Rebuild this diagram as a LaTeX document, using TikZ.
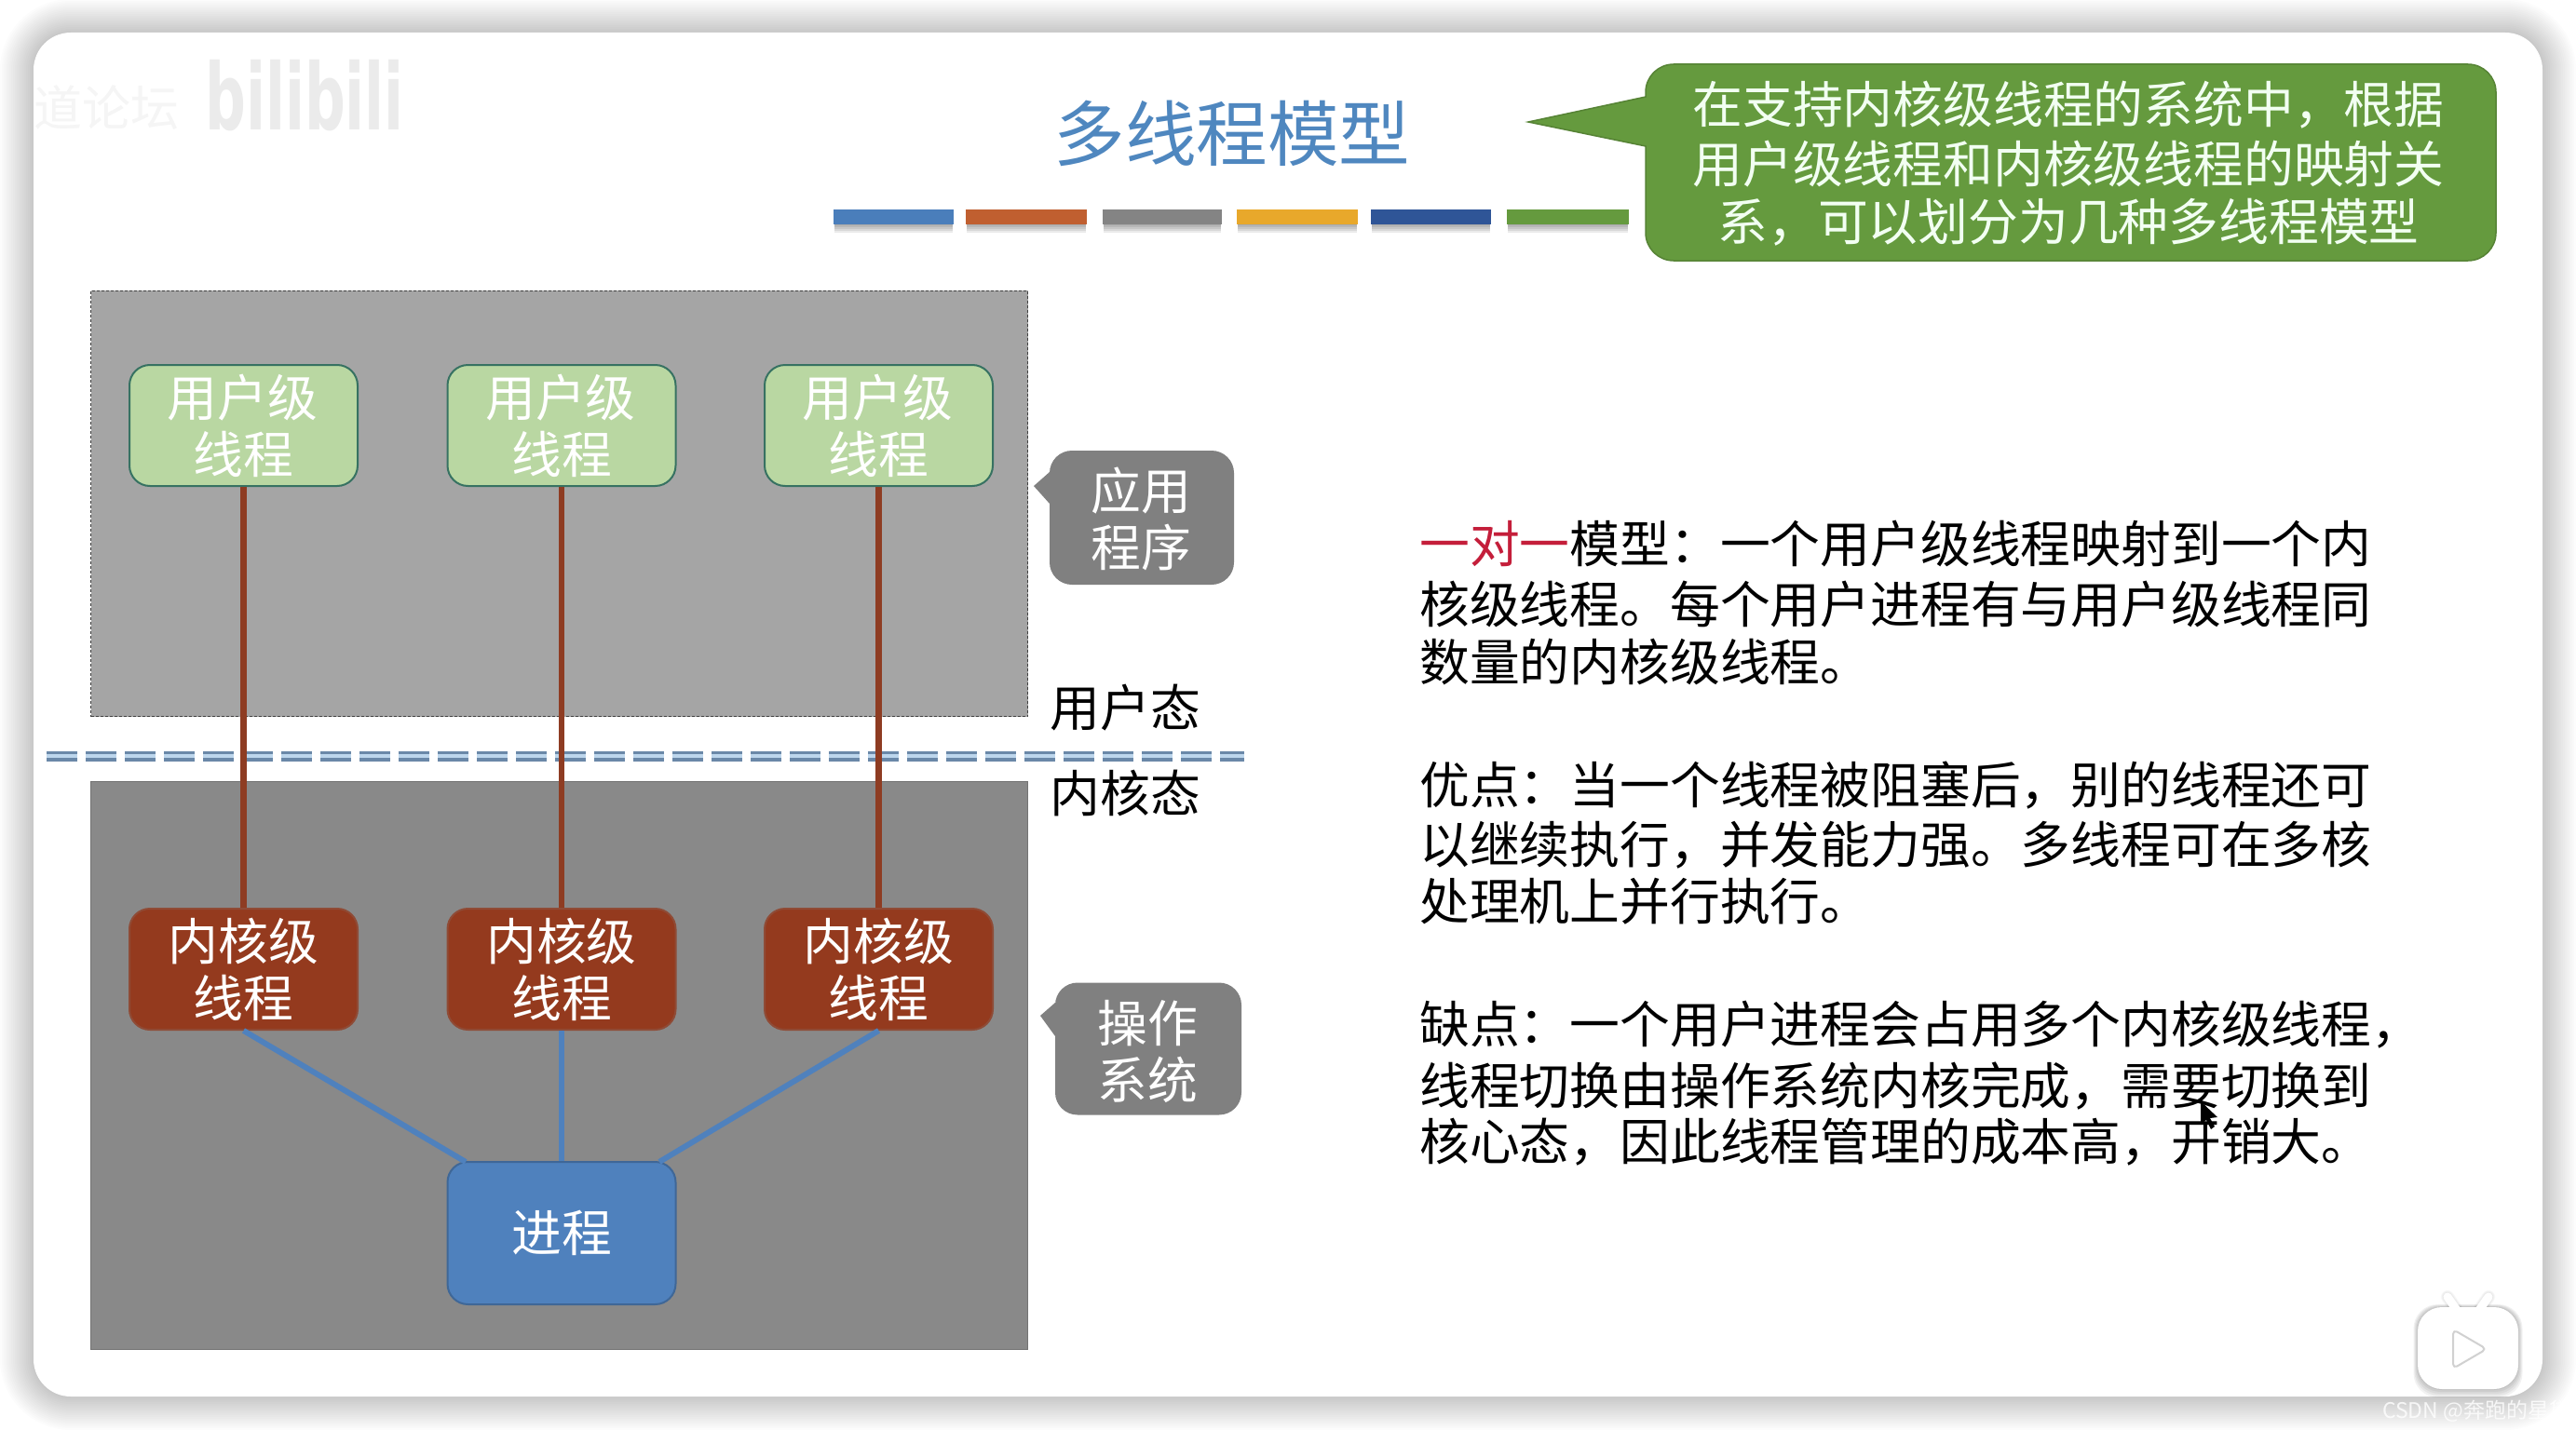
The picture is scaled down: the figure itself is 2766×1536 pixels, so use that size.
\documentclass[tikz,border=0pt]{standalone}
\usepackage{fontspec}
\setmainfont{Noto Sans CJK SC}
\newfontfamily\wmfont{DejaVu Sans}
\usetikzlibrary{calc}
\definecolor{ublue}{HTML}{4F81BD}
\definecolor{ubrown}{HTML}{8E3C22}
\definecolor{ugreen}{HTML}{B9D7A2}
\definecolor{kred}{HTML}{943A1E}
\definecolor{calloutgreen}{HTML}{659A3E}
\definecolor{calloutgray}{HTML}{808080}
\definecolor{topgray}{HTML}{A5A5A5}
\definecolor{botgray}{HTML}{898989}
\definecolor{titleblue}{HTML}{4F87BF}
\definecolor{crimson}{HTML}{C41E3A}
\definecolor{dashdark}{HTML}{6A88A8}
\definecolor{dashlight}{HTML}{BDD6EC}
\tikzset{
  x=1pt,y=-1pt,
  bodyfont/.style={font=\fontsize{53.8}{61}\selectfont},
  threadbox/.style={rounded corners=22pt,minimum width=245pt,minimum height=130pt,inner sep=0pt,align=center,bodyfont,line width=2pt},
  userbox/.style={threadbox,fill=ugreen,draw=black!45!teal!70!ugreen,text=white},
  kernbox/.style={threadbox,fill=kred,draw=kred!75!gray,text=white},
  procbox/.style={threadbox,minimum height=153pt,fill=ublue,draw=ublue!80!black,text=white},
  tag/.style={align=center,bodyfont,text=white,inner sep=0pt},
  textline/.style={anchor=west,inner sep=0pt,bodyfont,text=black},
  upline/.style={line width=6.5pt,draw=ubrown},
  downline/.style={line width=6pt,draw=ublue},
  colorbar/.style={minimum height=16pt,inner sep=0pt,anchor=north west},
}
\begin{document}
\begin{tikzpicture}
\useasboundingbox (0,0) rectangle (2766,1536);
\fill[white] (0,0) rectangle (2766,1536);
% card shadow
\foreach \d in {36,34,...,0}{
  \fill[black,opacity=0.0105,rounded corners=40+\d] (36-\d,35-\d) rectangle (2730+\d,1500+\d);
}
\fill[white,rounded corners=40pt] (36,35) rectangle (2730,1500);

% watermark
\node[anchor=west,inner sep=0pt,text=black!4,font=\fontsize{52}{52}\selectfont] (wm1) at (36,116) {道论坛};
\node[anchor=west,inner sep=0pt,text=black!8,font=\wmfont\bfseries\fontsize{60}{60}\selectfont,yscale=1.65,xscale=1.02] (wm2) at (220,103) {bilibili};

% title
\node[inner sep=0pt,text=titleblue,font=\fontsize{76.6}{80}\selectfont] (title) at (1323,143) {多线程模型};

% colour bars
\foreach \xa/\xb/\c/\nm in {895/1024/4A7EBB/b1,1037/1167/C05F30/b2,1184/1312/848484/b3,1328/1458/E8A82B/b4,1472/1601/2F5597/b5,1618/1749/659A3E/b6}{
  \definecolor{barcol}{HTML}{\c}
  \foreach \s in {10,8,6,4,2}{\fill[black,opacity=0.08] (\xa+1,225+\s) rectangle (\xb-1,240+\s);}
  \node[colorbar,fill=barcol,minimum width=\xb-\xa] (\nm) at (\xa,224.5) {};
}

% green callout
\draw[fill=calloutgreen,draw=calloutgreen!85!black,line width=1.5pt]
  (1641,131) -- (1767,104) [rounded corners=30pt] -- (1767,69) -- (2680,69) -- (2680,280) -- (1767,280) [sharp corners] -- (1767,157) -- cycle;
\node[tag,text=white!95!green] (c1) at (2221,113) {在支持内核级线程的系统中，根据};
\node[tag,text=white!95!green] (c2) at (2221,176) {用户级线程和内核级线程的映射关};
\node[tag,text=white!95!green] (c3) at (2221,239) {系，可以划分为几种多线程模型};

% regions
\node[fill=topgray,draw=black!75,densely dashed,line width=1.2pt,minimum width=1006pt,minimum height=457.5pt,inner sep=0pt,anchor=north west] (userarea) at (97,311.5) {};
\node[fill=botgray,draw=black!55,line width=1pt,minimum width=1006pt,minimum height=610pt,inner sep=0pt,anchor=north west] (kernarea) at (97,839) {};

% dashed boundary
\coordinate (bl) at (50,812);
\coordinate (br) at (1336,812);
\draw[line width=11pt,draw=dashdark,dash pattern=on 33pt off 9pt] (bl) -- (br);
\draw[line width=3.4pt,draw=dashlight,dash pattern=on 33pt off 9pt] (bl) -- (br);

% thread boxes
\node[userbox] (u1) at (261.5,457) {\kern-2pt 用户级\\线程};
\node[userbox] (u2) at (603,457) {\kern-2pt 用户级\\线程};
\node[userbox] (u3) at (943.5,457) {\kern-2pt 用户级\\线程};
\node[kernbox] (k1) at (261.5,1041) {\raisebox{-2pt}{内核级}\\\raisebox{-2pt}{线程}};
\node[kernbox] (k2) at (603,1041) {\raisebox{-2pt}{内核级}\\\raisebox{-2pt}{线程}};
\node[kernbox] (k3) at (943.5,1041) {\raisebox{-2pt}{内核级}\\\raisebox{-2pt}{线程}};
\node[procbox] (p) at (603,1324.5) {进程};
\coordinate (pl) at (500,1248);
\coordinate (pr) at (708,1248);

% connectors
\draw[upline] (u1.south) -- (k1.north);
\draw[upline] (u2.south) -- (k2.north);
\draw[upline] (u3.south) -- (k3.north);
\draw[downline] (k1.south) -- (pl);
\draw[downline] (k2.south) -- (p.north);
\draw[downline] (k3.south) -- (pr);

% grey callouts
\fill[calloutgray] (1110,522) -- (1127,507) [rounded corners=24pt] -- (1127,484) -- (1325,484) -- (1325,628) -- (1127,628) [sharp corners] -- (1127,541) -- cycle;
\node[tag] (app) at (1225,557) {应用\\程序};
\fill[calloutgray] (1117,1091) -- (1133,1077) [rounded corners=24pt] -- (1133,1055.5) -- (1333,1055.5) -- (1333,1197.5) -- (1133,1197.5) [sharp corners] -- (1133,1113) -- cycle;
\node[tag] (os) at (1232,1129.5) {操作\\系统};

% state labels
\node[textline] (us) at (1127.5,760) {用户态};
\node[textline] (ks) at (1127.5,852) {内核态};

% description
\node[textline] (t11) at (1524,584) {\textcolor{crimson}{一对一}模型：一个用户级线程映射到一个内};
\node[textline] (t12) at (1524,649) {核级线程。每个用户进程有与用户级线程同};
\node[textline] (t13) at (1524,711) {数量的内核级线程。};
\node[textline] (t21) at (1524,844) {优点：当一个线程被阻塞后，别的线程还可};
\node[textline] (t22) at (1524,908) {以继续执行，并发能力强。多线程可在多核};
\node[textline] (t23) at (1524,968) {处理机上并行执行。};
\node[textline] (t31) at (1524,1101) {缺点：一个用户进程会占用多个内核级线程，};
\node[textline] (t32) at (1524,1167) {线程切换由操作系统内核完成，需要切换到};
\node[textline] (t33) at (1524,1227) {核心态，因此线程管理的成本高，开销大。};

% cursor
\fill[black] (2363,1183) -- (2363,1208) -- (2369,1203) -- (2374,1213) -- (2378,1210) -- (2373,1201) -- (2381,1200) -- cycle;

% play icon
\foreach \s in {9,7,5,3,1}{
  \fill[black,opacity=0.05,rounded corners=26pt] (2596-\s/2,1404-\s/3) rectangle (2704+\s/2,1492+\s);
  \draw[line width=9pt+\s*0.6pt,black,opacity=0.02,line cap=round] (2628,1393) -- (2640,1410);
  \draw[line width=9pt+\s*0.6pt,black,opacity=0.02,line cap=round] (2672,1393) -- (2660,1410);
}
\draw[line width=9pt,white,line cap=round] (2628,1393) -- (2640,1410);
\draw[line width=9pt,white,line cap=round] (2672,1393) -- (2660,1410);
\fill[white,rounded corners=26pt] (2596,1404) rectangle (2704,1492);
\draw[draw=black!18,fill=white,line width=2pt,rounded corners=5pt,line join=round] (2634,1428) -- (2670,1449) -- (2634,1470) -- cycle;

% csdn mark
\node[anchor=west,inner sep=0pt,text=white,opacity=0.8,font=\fontsize{23}{23}\selectfont] (csdn) at (2558,1516) {CSDN @奔跑的星黛};
\end{tikzpicture}
\end{document}
